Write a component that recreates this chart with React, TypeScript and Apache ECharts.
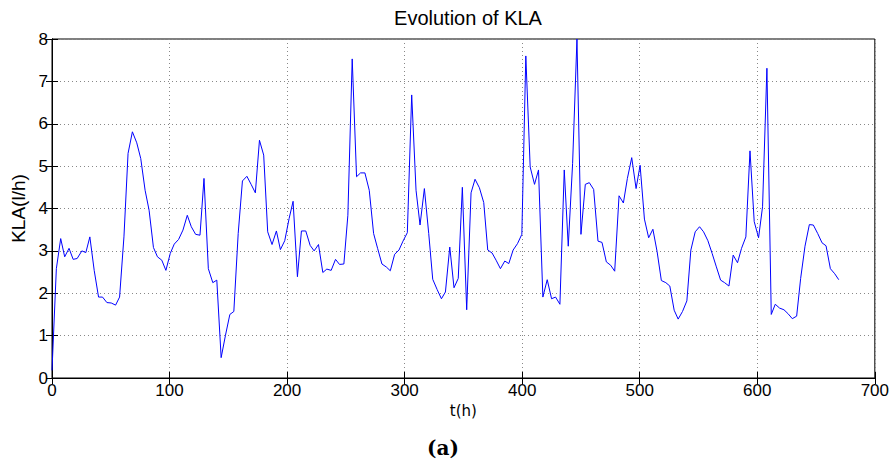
import React, { useEffect, useRef } from "react";
import * as echarts from "echarts";

const title = "Evolution of KLA";
const xName = "t(h)";
const yName = "KLA(l/h)";
const caption = "(a)";

const times: number[] = [
  0, 3.7, 7.4, 10.8, 14.5, 18, 21.4, 25.4, 28.8, 32.2, 35.9, 39.6, 43, 46.7, 50.4, 54.1, 57.5, 61.2, 64.7, 68.4,
  72.1, 75.5, 79.2, 82.6, 86.3, 89.7, 93.4, 96.9, 100.6, 104, 107.7, 111.4, 115.1, 118.5, 122.2, 125.9, 129.3, 133, 136.8, 140.2,
  143.9, 147.6, 151.3, 154.7, 158.4, 162, 165.8, 169.4, 173, 176.5, 180.1, 183.5, 187.2, 190.9, 194.3, 198, 201.7, 205.1, 208.8, 212.2,
  215.9, 219.6, 223, 226.7, 230.4, 233.8, 237.5, 241.2, 244.6, 248.3, 251.7, 255.4, 259.1, 262.5, 266.2, 269.9, 273.6, 277, 280.7, 284.4,
  287.8, 291.5, 295.2, 298.6, 302.3, 306, 309.7, 313.1, 316.8, 320.5, 323.9, 327.6, 331.3, 334.7, 338.4, 342, 345.6, 349.1, 352.8, 356.5,
  359.9, 363.6, 367.3, 370.7, 374.4, 377.8, 381.5, 385.2, 388.6, 392.3, 396, 399.7, 403.1, 406.8, 410.5, 413.9, 417.6, 421.3, 425, 428.4,
  432.1, 435.8, 439.2, 442.9, 446.6, 450, 453.7, 457.1, 460.8, 464.5, 467.9, 471.6, 475.3, 478.7, 482.4, 486.1, 489.5, 493.2, 496.9, 500.3,
  504, 507.6, 511.2, 514.8, 518.4, 522.2, 525.6, 529.3, 532.7, 536.4, 540.1, 543.5, 547.2, 550.9, 554.3, 558, 561.6, 565, 568.8, 572.2,
  575.9, 579.5, 583.2, 586.6, 590.3, 593.8, 597.4, 601.1, 604.5, 608.2, 611.9, 615.3, 619, 622.7, 626.1, 629.8, 633.5, 636.9, 640.6, 644.3,
  647.7, 651.4, 655.1, 658.5, 662.2, 665.9, 669.3,
];

const kla: number[] = [
  0.18, 2.58, 3.29, 2.86, 3.06, 2.8, 2.82, 3.0, 2.96, 3.33, 2.54, 1.91, 1.91, 1.78, 1.77, 1.72, 1.91, 3.33, 5.3, 5.81,
  5.55, 5.18, 4.43, 3.96, 3.08, 2.86, 2.78, 2.54, 2.94, 3.16, 3.27, 3.49, 3.84, 3.57, 3.39, 3.37, 4.71, 2.58, 2.25, 2.31,
  0.48, 1.01, 1.5, 1.57, 3.41, 4.65, 4.76, 4.57, 4.37, 5.61, 5.26, 3.45, 3.15, 3.47, 3.03, 3.24, 3.76, 4.17, 2.39, 3.47,
  3.47, 3.13, 3.0, 3.15, 2.49, 2.57, 2.54, 2.8, 2.68, 2.69, 3.84, 7.53, 4.75, 4.84, 4.84, 4.43, 3.41, 3.06, 2.69, 2.62,
  2.53, 2.92, 3.02, 3.23, 3.43, 6.68, 4.43, 3.61, 4.47, 3.41, 2.33, 2.09, 1.87, 2.03, 3.09, 2.13, 2.35, 4.5, 1.61, 4.37,
  4.69, 4.49, 4.14, 3.02, 2.95, 2.78, 2.58, 2.76, 2.7, 3.02, 3.17, 3.39, 7.6, 4.98, 4.57, 4.91, 1.91, 2.32, 1.87, 1.91,
  1.74, 4.91, 3.11, 5.06, 8.0, 3.39, 4.57, 4.61, 4.45, 3.23, 3.2, 2.74, 2.66, 2.52, 4.3, 4.13, 4.71, 5.2, 4.47, 5.02,
  3.75, 3.31, 3.51, 2.98, 2.3, 2.25, 2.17, 1.6, 1.39, 1.57, 1.82, 3.02, 3.45, 3.57, 3.45, 3.24, 2.94, 2.64, 2.31, 2.25,
  2.17, 2.9, 2.72, 3.06, 3.33, 5.36, 3.69, 3.31, 4.04, 7.31, 1.5, 1.74, 1.65, 1.61, 1.52, 1.4, 1.46, 2.35, 3.11, 3.62,
  3.61, 3.41, 3.19, 3.12, 2.58, 2.46, 2.32,
];

export default function App() {
  const ref = useRef<HTMLDivElement>(null);
  useEffect(() => {
    if (!ref.current) return;
    const chart = echarts.init(ref.current, undefined, { renderer: "svg" });
    const font = "'Liberation Sans', Arial, sans-serif";
    const data = times.map((t, i) => [t, kla[i]]);
    const grid = { left: 52, right: 17, top: 39, bottom: 86 };
    chart.setOption({
      animation: false,
      backgroundColor: "#fff",
      title: {
        text: title,
        left: 463,
        textAlign: "center",
        top: 3,
        textStyle: { fontFamily: font, fontSize: 20, fontWeight: "normal", color: "#000" },
      },
      grid: { ...grid, show: true, borderColor: "#000", borderWidth: 1, backgroundColor: "transparent" },
      xAxis: [
        {
          type: "value",
          min: 0,
          max: 700,
          interval: 100,
          name: xName,
          nameLocation: "middle",
          nameGap: 23,
          nameTextStyle: { fontFamily: "'DejaVu Sans', sans-serif", fontSize: 15, color: "#000" },
          axisLine: { show: true, lineStyle: { color: "#000", width: 1 } },
          axisTick: { show: true, inside: true, length: 6, lineStyle: { color: "#000" } },
          axisLabel: { fontFamily: font, fontSize: 17, color: "#000", margin: 4 },
          splitLine: { show: true, lineStyle: { color: "#888", type: [1, 3], width: 1 } },
        },
        {
          type: "value",
          position: "top",
          min: 0,
          max: 700,
          interval: 100,
          axisLine: { show: true, lineStyle: { color: "#000", width: 1 } },
          axisTick: { show: true, inside: true, length: 6, lineStyle: { color: "#000" } },
          axisLabel: { show: false },
          splitLine: { show: false },
        },
      ],
      yAxis: [
        {
          type: "value",
          min: 0,
          max: 8,
          interval: 1,
          name: yName,
          nameLocation: "middle",
          nameGap: 17,
          nameTextStyle: { fontFamily: font, fontSize: 19, color: "#000" },
          axisLine: { show: true, lineStyle: { color: "#000", width: 1 } },
          axisTick: { show: true, inside: true, length: 6, lineStyle: { color: "#000" } },
          axisLabel: { fontFamily: font, fontSize: 17, color: "#000", margin: 4 },
          splitLine: { show: true, lineStyle: { color: "#888", type: [1, 3], width: 1 } },
        },
        {
          type: "value",
          position: "right",
          min: 0,
          max: 8,
          interval: 1,
          axisLine: { show: true, lineStyle: { color: "#000", width: 1 } },
          axisTick: { show: true, inside: true, length: 6, lineStyle: { color: "#000" } },
          axisLabel: { show: false },
          splitLine: { show: false },
        },
      ],
      graphic: [
        {
          type: "text",
          x: 443,
          y: 448,
          style: {
            text: caption,
            fontFamily: "'DejaVu Serif', 'Liberation Serif', serif",
            fontWeight: "bold",
            fontSize: 20,
            fill: "#000",
            align: "center",
            verticalAlign: "middle",
          },
        },
      ],
      series: [
        {
          type: "line",
          data,
          showSymbol: false,
          symbol: "none",
          lineStyle: { color: "#0000ff", width: 1 },
          clip: true,
        },
      ],
    });
    return () => chart.dispose();
  }, []);
  return <div ref={ref} style={{ width: 892, height: 464, position: "absolute", left: 0, top: 0 }} />;
}
